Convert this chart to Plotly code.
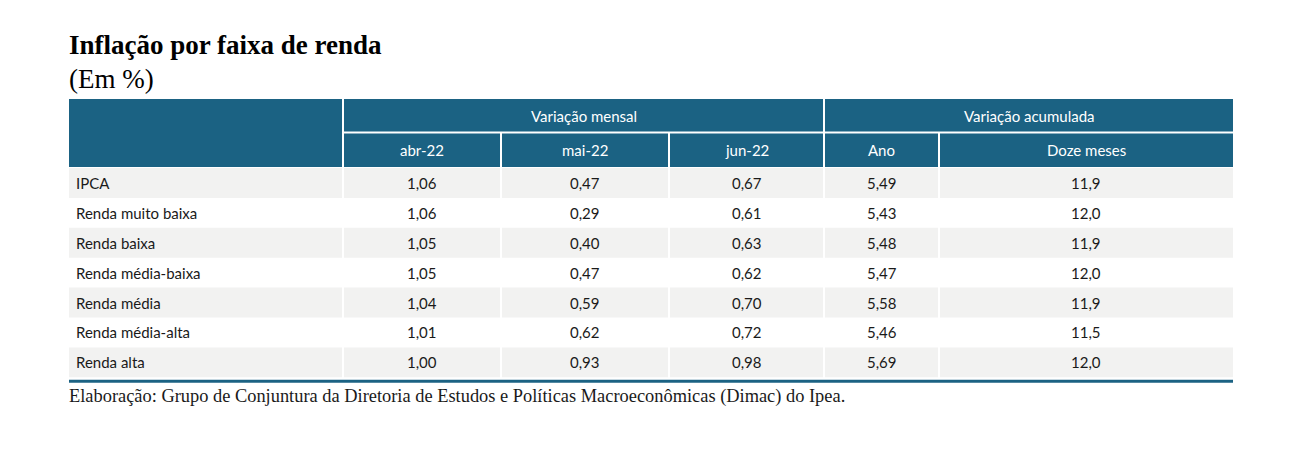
import plotly.graph_objects as go

# data
rows = ["IPCA", "Renda muito baixa", "Renda baixa", "Renda média-baixa",
        "Renda média", "Renda média-alta", "Renda alta"]
abr_22 = [1.06, 1.06, 1.05, 1.05, 1.04, 1.01, 1.00]
mai_22 = [0.47, 0.29, 0.40, 0.47, 0.59, 0.62, 0.93]
jun_22 = [0.67, 0.61, 0.63, 0.62, 0.70, 0.72, 0.98]
ano = [5.49, 5.43, 5.48, 5.47, 5.58, 5.46, 5.69]
doze_meses = [11.9, 12.0, 11.9, 12.0, 11.9, 11.5, 12.0]

sub_headers = ["abr-22", "mai-22", "jun-22", "Ano", "Doze meses"]
groups = ["Variação mensal", "Variação acumulada"]
group_span = [(1, 3), (4, 5)]   # column index ranges

title = "<b>Inflação por faixa de renda</b>"
subtitle = "(Em %)"
source = "Elaboração: Grupo de Conjuntura da Diretoria de Estudos e Políticas Macroeconômicas (Dimac) do Ipea."

# layout (page pixels); the html body has an 8px margin
W, H = 1298, 472
PAD = 8
col_edges = [69, 343, 501, 669, 824, 939, 1233]
head_top, head_mid, head_bot = 99, 132.5, 167
row_h = 29.9
BLUE = "#1b6283"
GREY = "#f2f2f1"
TXT_FONT = "Lato"
SERIF = "Liberation Serif"


def fmt(v, d):
    return f"{v:.{d}f}".replace(".", ",")


columns = [
    [fmt(v, 2) for v in abr_22],
    [fmt(v, 2) for v in mai_22],
    [fmt(v, 2) for v in jun_22],
    [fmt(v, 2) for v in ano],
    [fmt(v, 1) for v in doze_meses],
]

shapes = []
annotations = []


def rect(x0, y0, x1, y1, color):
    shapes.append(dict(type="rect", xref="x", yref="y", x0=x0, x1=x1, y0=y0, y1=y1,
                       fillcolor=color, line=dict(width=0), layer="below"))


def text(x, y, s, size=15, color="#1a1a1a", font=TXT_FONT, xanchor="center"):
    annotations.append(dict(x=x, y=y, xref="x", yref="y", text=s, showarrow=False,
                            xanchor=xanchor, yanchor="middle",
                            xshift=-2 if xanchor == "left" else 0,
                            font=dict(family=font, size=size, color=color)))


# header: label column spans both rows
rect(col_edges[0], head_top, col_edges[1] - 1, head_bot, BLUE)
for g, (a, b) in zip(groups, group_span):
    x0, x1 = col_edges[a] + 1, col_edges[b + 1] - 1
    if b == len(sub_headers):
        x1 = col_edges[-1]
    rect(x0, head_top, x1, head_mid - 1, BLUE)
    text((x0 + x1) / 2, (head_top + head_mid) / 2, g, color="white")
for i, h in enumerate(sub_headers):
    x0, x1 = col_edges[i + 1] + 1, col_edges[i + 2] - 1
    if i == len(sub_headers) - 1:
        x1 = col_edges[-1]
    rect(x0, head_mid + 1, x1, head_bot, BLUE)
    text((x0 + x1) / 2, (head_mid + head_bot) / 2, h, color="white")

# body
for r, name in enumerate(rows):
    y0 = head_bot + 1 + r * row_h
    y1 = y0 + row_h
    yc = (y0 + y1) / 2
    if r % 2 == 0:
        for c in range(len(col_edges) - 1):
            x0 = col_edges[c] + (1 if c > 0 else 0)
            x1 = col_edges[c + 1] - (1 if c < len(col_edges) - 2 else 0)
            rect(x0, y0, x1, y1, GREY)
    text(col_edges[0] + 7, yc, name, xanchor="left")
    for c, col in enumerate(columns):
        text((col_edges[c + 1] + col_edges[c + 2]) / 2, yc, col[r])

# thick bottom rule
table_bot = head_bot + 1 + len(rows) * row_h
shapes.append(dict(type="line", xref="x", yref="y", x0=col_edges[0], x1=col_edges[-1],
                   y0=table_bot + 4, y1=table_bot + 4, line=dict(color=BLUE, width=3)))

# titles and source
text(col_edges[0], 45, title, size=27, color="black", font=SERIF, xanchor="left")
text(col_edges[0], 79, subtitle, size=27, color="black", font=SERIF, xanchor="left")
text(col_edges[0], table_bot + 19, source, size=18.4, color="#1a1a1a", font=SERIF, xanchor="left")

fig = go.Figure()
fig.update_layout(
    width=W - 2 * PAD, height=H - 2 * PAD,
    margin=dict(l=0, r=0, t=0, b=0),
    paper_bgcolor="white", plot_bgcolor="white",
    xaxis=dict(range=[PAD, W - PAD], visible=False, fixedrange=True),
    yaxis=dict(range=[H - PAD, PAD], visible=False, fixedrange=True),
    shapes=shapes, annotations=annotations,
    showlegend=False,
)
fig.write_html("out.html", config={"displayModeBar": False})
